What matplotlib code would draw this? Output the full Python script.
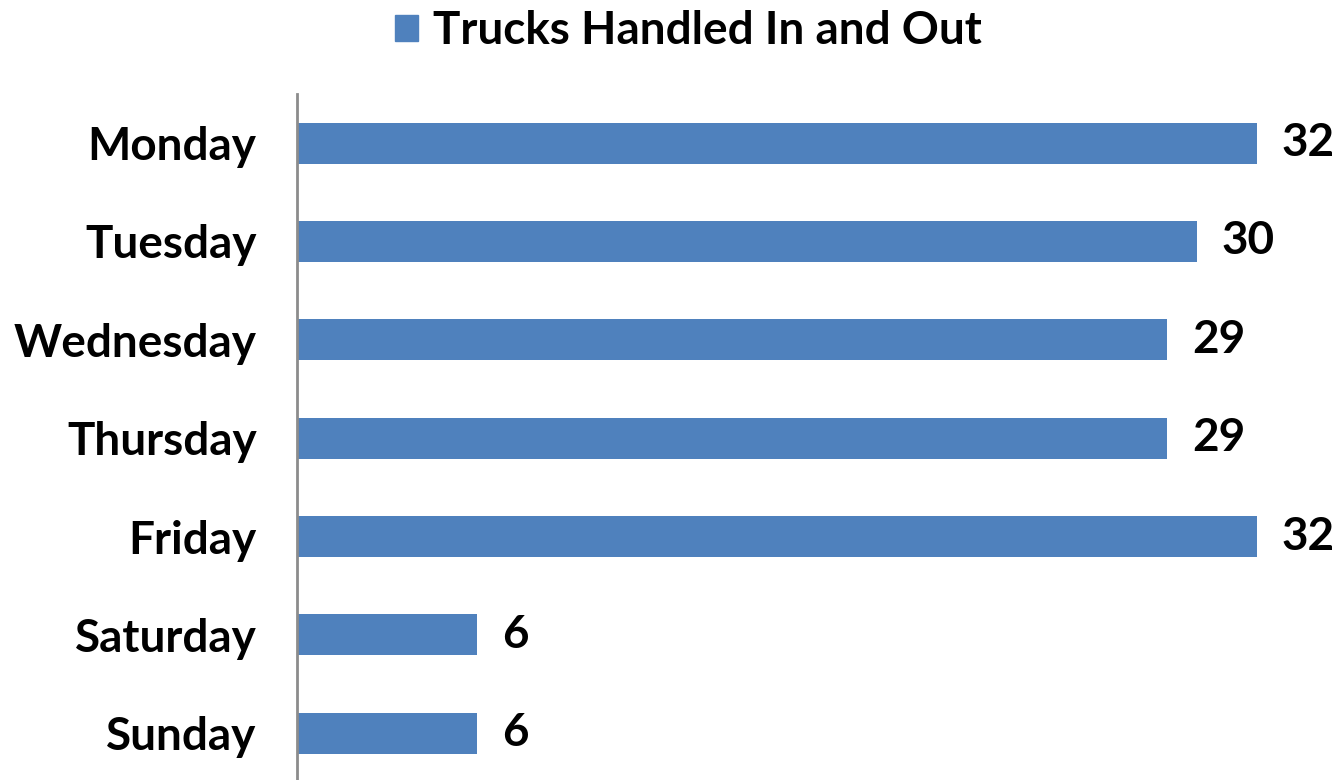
import matplotlib.pyplot as plt
from matplotlib.patches import Patch

days = ['Monday', 'Tuesday', 'Wednesday', 'Thursday', 'Friday', 'Saturday', 'Sunday']
trucks = [32, 30, 29, 29, 32, 6, 6]
series_name = 'Trucks Handled In and Out'

bar_color = '#4F81BD'
plt.rcParams['font.family'] = ['Lato', 'DejaVu Sans']
plt.rcParams['font.weight'] = 'bold'

fig = plt.figure(figsize=(13.42, 7.8), dpi=100)
ax = fig.add_axes([0.2213, -0.003, 0.7712, 0.8825])

y = list(range(len(days)))
ax.barh(y, trucks, height=0.42, color=bar_color)
ax.set_ylim(len(days) - 0.5, -0.5)
ax.set_xlim(0, 34.5)

ax.set_yticks(y)
ax.set_yticklabels(days, fontsize=33, fontweight='bold')
ax.tick_params(axis='y', length=0, pad=29)
ax.set_xticks([])

for spine in ['top', 'right', 'bottom']:
    ax.spines[spine].set_visible(False)
ax.spines['left'].set_color('#8C8C8C')
ax.spines['left'].set_linewidth(2)

for yi, v in zip(y, trucks):
    ax.annotate(str(v), (v, yi), xytext=(18, 0), textcoords='offset points',
                va='center', ha='left', fontsize=33, fontweight='bold')

handle = Patch(color=bar_color)
fig.legend([handle], [series_name], loc='upper center', bbox_to_anchor=(0.5127, 1.04),
           frameon=False, handlelength=0.5, handleheight=0.5,
           handletextpad=0.33, prop={'weight': 'bold', 'size': 33})

fig.savefig('out.png', dpi=100)
